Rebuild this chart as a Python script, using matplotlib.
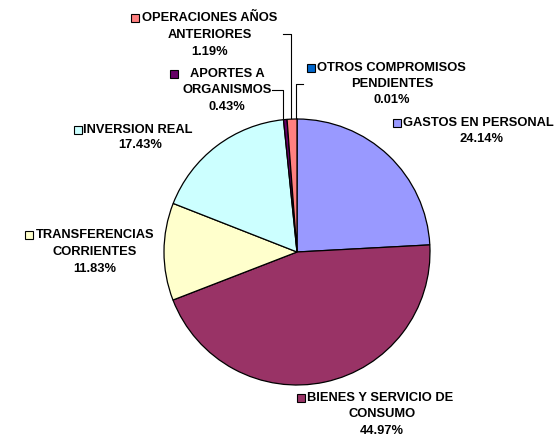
import matplotlib
import matplotlib.pyplot as plt
from matplotlib.patches import Rectangle

matplotlib.use("Agg")

# Datos del gráfico (orden horario desde las 12)
categorias = [
    "OTROS COMPROMISOS\nPENDIENTES",
    "GASTOS EN PERSONAL",
    "BIENES Y SERVICIO DE\nCONSUMO",
    "TRANSFERENCIAS\nCORRIENTES",
    "INVERSION REAL",
    "APORTES A\nORGANISMOS",
    "OPERACIONES AÑOS\nANTERIORES",
]
porcentajes = [0.01, 24.14, 44.97, 11.83, 17.43, 0.43, 1.19]
colores = ["#0066CC", "#9999FF", "#993366", "#FFFFCC", "#CCFFFF", "#660066", "#FF8080"]

W, H = 555, 438
CX, CY, R = 297, 252, 133

fig = plt.figure(figsize=(W / 100, H / 100), dpi=100)
fig.patch.set_facecolor("white")

# Torta
ax = fig.add_axes([(CX - R) / W, (H - CY - R) / H, 2 * R / W, 2 * R / H])
ax.pie(
    porcentajes,
    colors=colores,
    startangle=90,
    counterclock=False,
    radius=1,
    wedgeprops=dict(edgecolor="black", linewidth=0.9),
)
ax.set_xlim(-1, 1)
ax.set_ylim(-1, 1)
ax.set_aspect("auto")
ax.axis("off")

# Capa de etiquetas en coordenadas de píxel
capa = fig.add_axes([0, 0, 1, 1], facecolor="none")
capa.set_xlim(0, W)
capa.set_ylim(H, 0)
capa.axis("off")

# (x cuadro, x inicio primera línea, x centro resto, y de cada línea)
posiciones = [
    (310.5, 317, 392, [68, 84, 100]),
    (396.5, 403, 482, [123, 139]),
    (301, 307, 382, [398, 414, 431]),
    (29, 36, 95, [235, 252, 269]),
    (77.5, 83, 140, [130, 145]),
    (174, 190, 227, [74, 90, 107]),
    (135, 142, 210, [18, 35, 52]),
]

fuente = dict(fontsize=9.3, fontweight="bold", family="Liberation Sans")
for cat, pct, col, (sx, x0, xc, ys) in zip(categorias, porcentajes, colores, posiciones):
    lineas = cat.split("\n") + [f"{pct:.2f}%"]
    for i, (linea, y) in enumerate(zip(lineas, ys)):
        if i == 0:
            capa.text(x0, y, linea, ha="left", va="center", **fuente)
        else:
            capa.text(xc, y, linea, ha="center", va="center", **fuente)
    capa.add_patch(Rectangle((sx - 4, ys[0] - 4), 8, 8, facecolor=col,
                             edgecolor="black", linewidth=0.8))

# Líneas guía de las porciones pequeñas
guias = [
    [(303, 84), (296, 84), (296, 118)],
    [(272, 90), (283, 90), (283, 118)],
    [(283, 34), (291, 34), (291, 118)],
]
for g in guias:
    xs, ys = zip(*g)
    capa.plot(xs, ys, color="black", linewidth=0.8)

fig.savefig("out.png", dpi=100)
